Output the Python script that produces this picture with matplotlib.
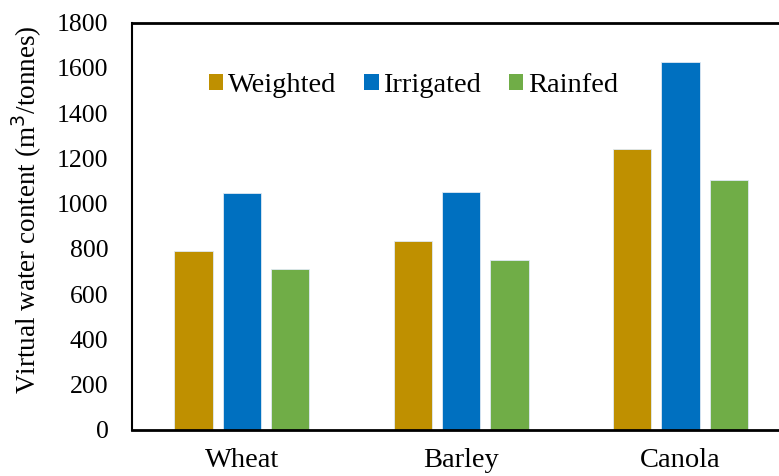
import matplotlib
matplotlib.use("Agg")
import matplotlib.pyplot as plt
import numpy as np

categories = ["Wheat", "Barley", "Canola"]
weighted = [793, 834, 1240]
irrigated = [1049, 1053, 1627]
rainfed = [710, 750, 1103]
series_names = ["Weighted", "Irrigated", "Rainfed"]
colors = ["#BF9000", "#0070C0", "#70AD47"]
yticks = [0, 200, 400, 600, 800, 1000, 1200, 1400, 1600, 1800]

plt.rcParams['font.family'] = ['Liberation Serif', 'DejaVu Serif']

fig = plt.figure(figsize=(7.79, 4.76), dpi=100)
W, H = 779, 476
ax = fig.add_axes([132 / W, 1 - 430 / H, (W - 132) / W, (430 - 22.7) / H])

x = np.arange(len(categories))
bw = 0.175
off = 0.22
for i, (vals, name, c) in enumerate(zip([weighted, irrigated, rainfed], series_names, colors)):
    ax.bar(x + (i - 1) * off, vals, width=bw, color=c, edgecolor="#dfe9f3", linewidth=0.6, label=name, zorder=2)

ax.set_ylim(0, 1800)
ax.set_xlim(-0.5, -0.5 + (W - 132) / 219.4)
ax.set_yticks(yticks)
ax.set_yticklabels([str(v) for v in yticks], fontsize=18.5)
ax.set_xticks(x)
ax.set_xticklabels(categories, fontsize=20.5)
ax.tick_params(axis='y', length=0, pad=17)
ax.tick_params(axis='x', length=0, pad=13)

ax.spines['right'].set_visible(False)
ax.spines['left'].set_linewidth(1.5)
ax.spines['top'].set_linewidth(2)
ax.spines['bottom'].set_linewidth(2)
for s in ax.spines.values():
    s.set_color("black")

ax.set_ylabel("Virtual water content (m$^3$/tonnes)", fontsize=19.5)
ax.yaxis.set_label_coords(-88 / (W - 132), 0.54)

leg = ax.legend(loc="upper left", bbox_to_anchor=((209 - 132) / (W - 132), 1 - (73 - 22.7) / (430 - 22.7)),
                ncol=3, frameon=False, fontsize=20.5, handlelength=0.5, handleheight=0.5,
                handletextpad=0.15, columnspacing=1.0, borderaxespad=0, borderpad=0)
for h in leg.legend_handles:
    h.set_edgecolor("none")

fig.savefig("out.png", dpi=100)
